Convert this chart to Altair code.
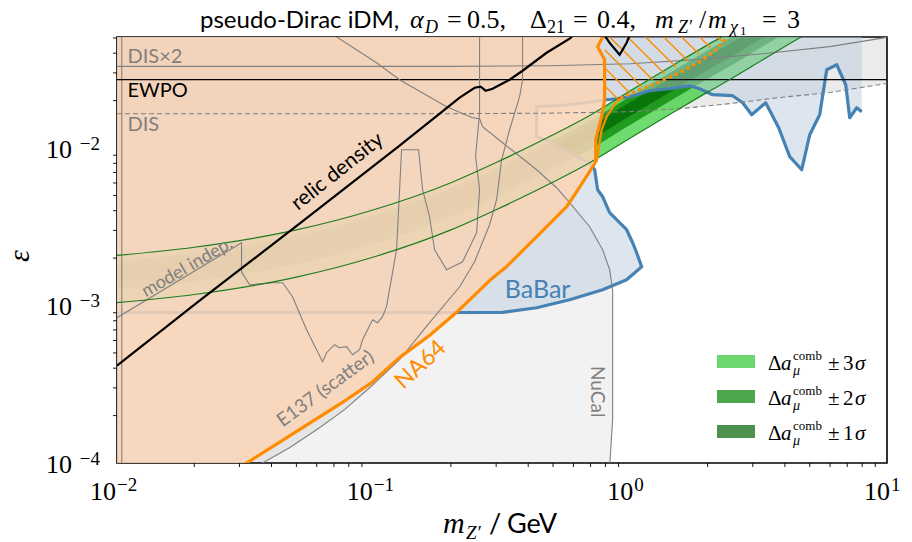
import altair as alt
import pandas as pd

# ---------------------------------------------------------------- layout
W, H = 770, 426
M_RANGE = [0.01, 10.0]
EPS_RANGE = [1e-4, 0.0507]
EPS_CAP = 0.07          # anything above the frame is clipped
M_LEFT = 0.01

SANS = "Lato"
SERIF = "Liberation Serif"

PEACH = "#f9d5b7"
BABAR_FILL = "#bbcbdf"
BABAR_LINE = "#4682b4"
ORANGE = "#ff8c00"
GREY = "#808080"
TEXT_GREY = "#7f7f7f"
BAND_EDGE = "#1e7d1e"

# ---------------------------------------------------------------- data
# NA64 (missing energy) limit
na64_m = [0.0308, 0.0514, 0.0783, 0.0982, 0.126, 0.165, 0.210, 0.283, 0.330, 0.432,
          0.565, 0.618, 0.694, 0.733, 0.733, 0.773, 0.794, 0.794, 0.746, 0.780, 0.790]
na64_eps = [0.96e-4, 1.63e-4, 2.52e-4, 3.24e-4, 4.67e-4, 6.45e-4, 9.02e-4, 1.44e-3, 1.77e-3, 2.74e-3,
            4.24e-3, 5.28e-3, 7.08e-3, 8.18e-3, 1.13e-2, 1.58e-2, 2.03e-2, 3.64e-2, 4.40e-2, 0.0507, 0.056]

# NA64 projection (solid start, dotted continuation) and its hatched wedge
na64b_m = [0.7390, 0.7730, 0.8084, 0.8842, 0.9249]
na64b_eps = [8.18e-3, 1.307e-2, 1.580e-2, 1.968e-2, 2.087e-2]
na64_dot_m = [0.9249, 1.087, 1.301, 1.556, 1.862, 2.131, 2.394]
na64_dot_eps = [0.02087, 0.02345, 0.02636, 0.03007, 0.03531, 0.04147, 0.0507]
hatch_m1 = [0.7941, 0.7941, 0.7941, 0.8306, 0.9761, 1.147, 1.349, 1.585, 1.862, 2.189]
hatch_e1 = [0.02486, 0.03234, 0.04208, 0.0507, 0.0507, 0.0507, 0.0507, 0.0507, 0.0507, 0.0507]
hatch_m2 = [0.8986, 0.9963, 1.105, 1.225, 1.358, 1.505, 1.670, 1.851, 2.052, 2.275]
hatch_e2 = [0.02032, 0.02234, 0.02458, 0.02702, 0.02972, 0.03268, 0.03593, 0.03951, 0.04345, 0.04778]

# BaBar: right-hand edge of the low-mass part (eps ascending) ...
babar_lo_eps = [9.00e-4, 9.68e-4, 1.088e-3, 1.260e-3, 1.458e-3, 1.763e-3, 2.164e-3, 2.504e-3,
                3.029e-3, 3.505e-3, 3.883e-3, 4.907e-3, 5.435e-3, 7.28e-3, 8.07e-3, 9.34e-3,
                1.080e-2, 1.179e-2, 1.829e-2, 1.883e-2, 1.997e-2, 2.026e-2, EPS_CAP]
babar_lo_m = [0.3179, 0.4313, 0.580, 0.7799, 0.9674, 1.107, 1.058, 1.021,
              0.9674, 0.8842, 0.8306, 0.7799, 0.7459, 0.7262, 0.6943, 0.580,
              0.498, 0.4313, 0.4313, 0.580, 0.7592, 0.8084, 0.8084]
# ... and the lower edge of the high-mass part (mass ascending)
babar_hi_m = [0.8084, 0.8842, 0.9938, 1.189, 1.423, 1.703, 1.862, 2.093, 2.504, 2.740, 2.971, 3.369,
              3.785, 4.178, 4.653, 5.000, 5.467, 5.823, 6.370, 6.906, 7.157, 7.621, 7.970]
babar_hi_eps = [0.02026, 0.02056, 0.02117, 0.02311, 0.02379, 0.02486, 0.02379, 0.02181, 0.02149,
                0.01939, 0.01627, 0.01939, 0.01345, 0.00881, 0.00728, 0.01215, 0.01627, 0.03141,
                0.03380, 0.02522, 0.01557, 0.01803, 0.01700]

# DIS, DIS x2, EWPO
dis_m = [0.01, 0.198, 0.485, 1.0, 1.556, 2.44, 3.82, 5.98, 10.0]
dis_eps = [0.01652, 0.01652, 0.01664, 0.01702, 0.01778, 0.01914, 0.02093, 0.02251, 0.02570]
dis2_m = [0.01, 0.198, 0.485, 1.0, 1.813, 3.28, 5.98, 10.0]
dis2_eps = [0.0330, 0.0330, 0.0333, 0.0343, 0.0364, 0.0397, 0.0440, 0.0505]
ewpo_eps = [0.02716]
left_edge_m = [0.01044]

# NuCal boundary (eps ascending)
nucal_eps = [0.95e-4, 1.883e-4, 1.260e-3, 1.688e-3, 2.261e-3, 3.165e-3, 4.494e-3, 5.597e-3,
             7.28e-3, 1.080e-2, 1.365e-2, 1.535e-2, 1.557e-2, 1.829e-2, 2.716e-2, 3.479e-2, 0.0597]
nucal_m = [0.8306, 0.8531, 0.8531, 0.8306, 0.7799, 0.6943, 0.580, 0.5162,
           0.4313, 0.3179, 0.2657, 0.2586, 0.2428, 0.1924, 0.1262, 0.1026, 0.06152]

# E137 lower boundary (eps ascending)
e137_eps = [0.95e-4, 1.251e-4, 1.675e-4, 2.181e-4, 3.006e-4, 4.527e-4, 7.776e-4, 1.316e-3,
            1.897e-3, 3.258e-3, 4.695e-3, 8.427e-3, 1.307e-2, 2.117e-2, 2.716e-2, 0.0564]
e137_m = [0.0349, 0.04701, 0.06152, 0.07700, 0.09638, 0.1262, 0.1651, 0.2163,
          0.2473, 0.2829, 0.3013, 0.3151, 0.3386, 0.3703, 0.3804, 0.3804]

# model-independent / E137 scattering outline (path order)
scat_m = [0.0100, 0.03056, 0.03056, 0.03284, 0.04037, 0.04416, 0.04830, 0.05477, 0.06322, 0.06554,
          0.07041, 0.07365, 0.07841, 0.08277, 0.08812, 0.09051, 0.09902, 0.1035, 0.1083, 0.1122,
          0.1228, 0.1262, 0.1284, 0.1496, 0.1551, 0.1651, 0.1727, 0.1924, 0.2221, 0.2518,
          0.2586, 0.2495, 0.2586, 0.2586]
scat_eps = [8.37e-4, 2.504e-3, 1.639e-3, 1.355e-3, 1.395e-3, 1.395e-3, 1.137e-3, 7.02e-4, 4.396e-4, 5.016e-4,
            5.639e-4, 5.397e-4, 5.476e-4, 4.871e-4, 5.241e-4, 6.066e-4, 8.126e-4, 7.776e-4, 8.49e-4, 9.83e-4,
            2.261e-3, 5.435e-3, 9.754e-3, 9.754e-3, 5.435e-3, 3.662e-3, 2.261e-3, 1.688e-3, 1.897e-3, 2.899e-3,
            5.435e-3, 8.81e-3, 1.675e-2, 0.0564]

# relic-density target
relic_m = [0.0100, 0.02097, 0.05143, 0.1262, 0.2163, 0.2473, 0.2610, 0.2730, 0.2906, 0.3386,
           0.3804, 0.4719, 0.5800, 0.6821, 0.780, 0.8303, 0.9084, 0.9674, 1.003]
relic_eps = [4.15e-4, 1.073e-3, 3.307e-3, 1.034e-2, 2.087e-2, 2.415e-2, 2.450e-2, 2.311e-2, 2.379e-2, 2.715e-2,
             3.096e-2, 4.027e-2, 4.943e-2, 0.0634, 0.0540, 0.04662, 0.03912, 0.04662, 0.0540]

# muon g-2 preferred bands
band_m = [0.01, 0.02, 0.05, 0.1, 0.2, 0.3, 0.5, 0.7, 1.0, 1.5, 2.0, 2.5, 3.0, 4.0, 5.0]
s3_lo = [1.042e-3, 1.175e-3, 1.514e-3, 2.032e-3, 3.020e-3, 4.055e-3, 6.081e-3, 8.128e-3,
         1.159e-2, 1.718e-2, 2.265e-2, 2.780e-2, 3.327e-2, 4.406e-2, 5.470e-2]
s3_hi = [2.079e-3, 2.344e-3, 3.020e-3, 4.054e-3, 6.025e-3, 8.090e-3, 1.213e-2, 1.622e-2,
         2.312e-2, 3.427e-2, 4.519e-2, 5.546e-2, 6.637e-2, 8.790e-2, 0.1091]
s2_lo = [1.264e-3, 1.426e-3, 1.837e-3, 2.466e-3, 3.664e-3, 4.920e-3, 7.379e-3, 9.863e-3,
         1.406e-2, 2.085e-2, 2.748e-2, 3.373e-2, 4.037e-2, 5.346e-2, 6.637e-2]
s2_hi = [1.914e-3, 2.158e-3, 2.780e-3, 3.732e-3, 5.546e-3, 7.447e-3, 1.117e-2, 1.493e-2,
         2.128e-2, 3.155e-2, 4.160e-2, 5.105e-2, 6.110e-2, 8.092e-2, 0.1005]
s1_lo = [1.442e-3, 1.626e-3, 2.095e-3, 2.811e-3, 4.178e-3, 5.610e-3, 8.414e-3, 1.125e-2,
         1.604e-2, 2.377e-2, 3.134e-2, 3.846e-2, 4.603e-2, 6.096e-2, 7.568e-2]
s1_hi = [1.761e-3, 1.986e-3, 2.559e-3, 3.435e-3, 5.105e-3, 6.855e-3, 1.028e-2, 1.374e-2,
         1.959e-2, 2.904e-2, 3.829e-2, 4.699e-2, 5.624e-2, 7.448e-2, 9.247e-2]

# axis ticks
x_major = [0.01, 0.1, 1.0, 10.0]
y_major = [1e-4, 1e-3, 1e-2]
x_minor = [k * 10.0 ** e for e in (-2, -1, 0) for k in range(2, 10)]
y_minor = [k * 10.0 ** e for e in (-4, -3, -2) for k in range(2, 10) if k * 10.0 ** e < EPS_RANGE[1]]
x_exp_narrow = ["−2", "−1"]
x_exp_wide = ["0", "1"]
y_exp = ["−4", "−3", "−2"]

# ---------------------------------------------------------------- helpers
xs = alt.Scale(type="log", domain=M_RANGE)
ys = alt.Scale(type="log", domain=EPS_RANGE)
one = pd.DataFrame({"k": [0]})


def X(f):
    return alt.X(f, type="quantitative", scale=xs, axis=None)


def Y(f):
    return alt.Y(f, type="quantitative", scale=ys, axis=None)


def path(m, eps, **mark):
    d = pd.DataFrame({"m": m, "eps": eps, "i": range(len(m))})
    return alt.Chart(d).mark_line(clip=True, **mark).encode(x=X("m"), y=Y("eps"), order="i:Q")


def hfill(edge_m, eps, **mark):
    d = pd.DataFrame({"eps": eps, "m": edge_m, "m0": M_LEFT})
    return alt.Chart(d).mark_area(orient="horizontal", clip=True, strokeWidth=0, **mark).encode(
        y=Y("eps"), x=X("m0"), x2="m")


def vfill(m, lo, hi, **mark):
    d = pd.DataFrame({"m": m, "lo": lo, "hi": hi})
    return alt.Chart(d).mark_area(orient="vertical", clip=True, strokeWidth=0, **mark).encode(
        x=X("m"), y=Y("lo"), y2="hi")


def note(text, m, eps, **mark):
    d = pd.DataFrame({"m": [m], "eps": [eps], "t": [text]})
    return alt.Chart(d).mark_text(**mark).encode(x=X("m"), y=Y("eps"), text="t:N")


def place(text, px, py, **mark):
    return alt.Chart(one).mark_text(baseline="alphabetic", align="left", **mark).encode(
        x=alt.value(px), y=alt.value(py), text=alt.value(text))


layers = []

# ---------------------------------------------------------------- excluded regions
dis_df = pd.DataFrame({"m": dis_m, "lo": dis_eps, "hi": EPS_CAP})
layers.append(
    alt.Chart(dis_df).mark_area(clip=True, color="black", opacity=0.08, strokeWidth=0).encode(
        x=alt.X("m:Q", scale=xs, axis=alt.Axis(values=x_major, labels=False, tickSize=7, tickWidth=1.2,
                                               tickColor="black", domain=False, grid=False, title=None)),
        y=alt.Y("lo:Q", scale=ys, axis=alt.Axis(values=y_major, labels=False, tickSize=7, tickWidth=1.2,
                                                tickColor="black", domain=False, grid=False, title=None)),
        y2="hi")
)
layers.append(hfill(nucal_m, nucal_eps, color="black", opacity=0.05))
layers.append(hfill(e137_m, e137_eps, color="black", opacity=0.05))

# g-2 bands
layers.append(vfill(band_m, s3_lo, s3_hi, color="#32cd32", opacity=0.7, interpolate="monotone"))
layers.append(vfill(band_m, s2_lo, s2_hi, color="#008000", opacity=0.7, interpolate="monotone"))
layers.append(vfill(band_m, s1_lo, s1_hi, color="#006400", opacity=0.7, interpolate="monotone"))

# BaBar
layers.append(hfill(babar_lo_m, babar_lo_eps, color=BABAR_FILL, opacity=0.5))
layers.append(vfill(babar_hi_m, babar_hi_eps, [EPS_CAP] * len(babar_hi_m), color=BABAR_FILL, opacity=0.5))
babar_path_m = [M_LEFT, 0.3179] + babar_lo_m[1:-2] + babar_hi_m
babar_path_eps = [9.00e-4, 9.05e-4] + babar_lo_eps[1:-2] + babar_hi_eps
layers.append(path(babar_path_m, babar_path_eps, color=BABAR_LINE, strokeWidth=3.2, strokeJoin="round"))

# NA64 excluded region
layers.append(hfill(na64_m, na64_eps, color=PEACH, opacity=0.87))

# ---------------------------------------------------------------- lines
layers.append(alt.Chart(pd.DataFrame({"m": left_edge_m})).mark_rule(color=GREY, strokeWidth=1.1).encode(x=X("m")))
layers.append(path(dis_m, dis_eps, color=GREY, strokeWidth=1.1, strokeDash=[5, 3]))
layers.append(path(dis2_m, dis2_eps, color=GREY, strokeWidth=1.2))
layers.append(alt.Chart(pd.DataFrame({"eps": ewpo_eps})).mark_rule(color="black", strokeWidth=1.3).encode(y=Y("eps")))
layers.append(path(nucal_m[::-1], nucal_eps[::-1], color=GREY, strokeWidth=1.1))
layers.append(path(e137_m, e137_eps, color=GREY, strokeWidth=1.1))
layers.append(path(scat_m, scat_eps, color=GREY, strokeWidth=1.1))

layers.append(path(band_m, s3_lo, color=BAND_EDGE, strokeWidth=1.2, interpolate="monotone"))
layers.append(path(band_m, s3_hi, color=BAND_EDGE, strokeWidth=1.2, interpolate="monotone"))

hatch_df = pd.DataFrame({"m1": hatch_m1, "e1": hatch_e1, "m2": hatch_m2, "e2": hatch_e2})
layers.append(alt.Chart(hatch_df).mark_rule(color=ORANGE, strokeWidth=1.4, clip=True).encode(
    x=X("m1"), y=Y("e1"), x2="m2", y2="e2"))
layers.append(path(na64_dot_m, na64_dot_eps, color=ORANGE, strokeWidth=3.6, strokeDash=[0.1, 6.5], strokeCap="round"))
layers.append(path(na64b_m, na64b_eps, color=ORANGE, strokeWidth=2.2))
layers.append(path(na64_m, na64_eps, color=ORANGE, strokeWidth=3.2, strokeJoin="round"))

layers.append(path(relic_m, relic_eps, color="black", strokeWidth=2.2))

# ---------------------------------------------------------------- region labels
layers += [
    note("DIS×2", 0.01099, 0.0348, font=SANS, fontSize=20, color=TEXT_GREY, align="left", baseline="alphabetic"),
    note("EWPO", 0.01099, 0.02117, font=SANS, fontSize=20, color="black", align="left", baseline="alphabetic"),
    note("DIS", 0.01099, 0.01288, font=SANS, fontSize=20, color=TEXT_GREY, align="left", baseline="alphabetic"),
    note("relic density", 0.07232, 7.07e-3, font=SANS, fontSize=21, color="black", angle=321.5),
    note("model indep.", 0.01882, 1.738e-3, font=SANS, fontSize=18, color=TEXT_GREY, angle=330),
    note("E137 (scatter)", 0.0649, 2.965e-4, font=SANS, fontSize=19, color=TEXT_GREY, angle=323.7),
    note("NA64", 0.1524, 4.207e-4, font=SANS, fontSize=23, color=ORANGE, angle=317.5),
    note("BaBar", 0.4353, 1.26e-3, font=SANS, fontSize=25, color=BABAR_LINE),
    note("NuCal", 0.739, 2.836e-4, font=SANS, fontSize=19, color=TEXT_GREY, angle=90),
]

# ---------------------------------------------------------------- ticks and tick labels
layers.append(alt.Chart(pd.DataFrame({"m": x_minor})).mark_rule(color="black", strokeWidth=0.9).encode(
    x=X("m"), y=alt.value(H), y2=alt.value(H + 4)))
layers.append(alt.Chart(pd.DataFrame({"eps": y_minor})).mark_rule(color="black", strokeWidth=0.9).encode(
    y=Y("eps"), x=alt.value(0), x2=alt.value(-4)))

xa = pd.DataFrame({"m": x_major[:2], "b": "10", "e": x_exp_narrow})
xb = pd.DataFrame({"m": x_major[2:], "b": "10", "e": x_exp_wide})
for df, off in ((xa, -1), (xb, 3)):
    layers.append(alt.Chart(df).mark_text(font=SERIF, fontSize=26, align="right", baseline="alphabetic", dx=off)
                  .encode(x=X("m"), y=alt.value(H + 37), text="b:N"))
    layers.append(alt.Chart(df).mark_text(font=SERIF, fontSize=19, align="left", baseline="alphabetic", dx=off + 1)
                  .encode(x=X("m"), y=alt.value(H + 28), text="e:N"))
ya = pd.DataFrame({"eps": y_major, "b": "10", "e": y_exp})
layers.append(alt.Chart(ya).mark_text(font=SERIF, fontSize=26, align="right", baseline="alphabetic", dy=9.7)
              .encode(x=alt.value(-45), y=Y("eps"), text="b:N"))
layers.append(alt.Chart(ya).mark_text(font=SERIF, fontSize=19, align="right", baseline="alphabetic", dy=1.7)
              .encode(x=alt.value(-17), y=Y("eps"), text="e:N"))

# axis titles
layers += [
    place("m", 326, H + 70, font=SERIF, fontSize=30, fontStyle="italic"),
    place("Z′", 349, H + 76, font=SERIF, fontSize=19, fontStyle="italic"),
    place("/", 372, H + 70, font=SANS, fontSize=27),
    place("GeV", 390, H + 70, font=SANS, fontSize=27),
    alt.Chart(one).mark_text(font=SERIF, fontSize=30, fontStyle="italic", angle=270).encode(
        x=alt.value(-97), y=alt.value(219), text=alt.value("ε")),
]

# title
T = -9.5
layers += [
    place("pseudo-Dirac iDM,", 83, T, font=SANS, fontSize=24),
    place("α", 293, T, font=SERIF, fontSize=26, fontStyle="italic"),
    place("D", 308, T + 5, font=SERIF, fontSize=18, fontStyle="italic"),
    place("=", 330, T, font=SERIF, fontSize=26),
    place("0.5,", 350, T, font=SERIF, fontSize=26),
    place("Δ", 413, T, font=SERIF, fontSize=26),
    place("21", 430, T + 5, font=SERIF, fontSize=18),
    place("=", 456, T, font=SERIF, fontSize=26),
    place("0.4,", 480, T, font=SERIF, fontSize=26),
    place("m", 538, T, font=SERIF, fontSize=26, fontStyle="italic"),
    place("Z′", 561, T + 5, font=SERIF, fontSize=18, fontStyle="italic"),
    place("/", 582, T, font=SERIF, fontSize=26),
    place("m", 591, T, font=SERIF, fontSize=26, fontStyle="italic"),
    place("χ", 613, T + 5, font=SERIF, fontSize=18, fontStyle="italic"),
    place("1", 623, T + 7, font=SERIF, fontSize=13),
    place("=", 645, T, font=SERIF, fontSize=26),
    place("3", 670, T, font=SERIF, fontSize=26),
]

# legend
legend_colors = ["#6cd76c", "#4ca64c", "#4c924c"]
legend_sigmas = ["3", "2", "1"]
for row, (col, sig) in enumerate(zip(legend_colors, legend_sigmas)):
    top = 318 + 35 * row
    base = 333 + 35 * row
    layers.append(alt.Chart(one).mark_rect(color=col).encode(
        x=alt.value(600), x2=alt.value(638), y=alt.value(top), y2=alt.value(top + 13)))
    layers += [
        place("Δ", 651, base, font=SERIF, fontSize=21),
        place("a", 664, base, font=SERIF, fontSize=21, fontStyle="italic"),
        place("comb", 676, base - 10, font=SERIF, fontSize=13),
        place("μ", 676, base + 5, font=SERIF, fontSize=14, fontStyle="italic"),
        place("±", 711, base, font=SERIF, fontSize=21),
        place(sig, 726, base, font=SERIF, fontSize=21),
        place("σ", 738, base, font=SERIF, fontSize=21, fontStyle="italic"),
    ]

chart = alt.layer(*layers).properties(
    width=W, height=H,
    padding={"left": 117, "top": 37, "right": 25, "bottom": 79},
    autosize=alt.AutoSizeParams(type="none"),
).configure_view(stroke="black", strokeWidth=1.6)

chart.save("out.html", embed_options={"renderer": "svg", "actions": False})
